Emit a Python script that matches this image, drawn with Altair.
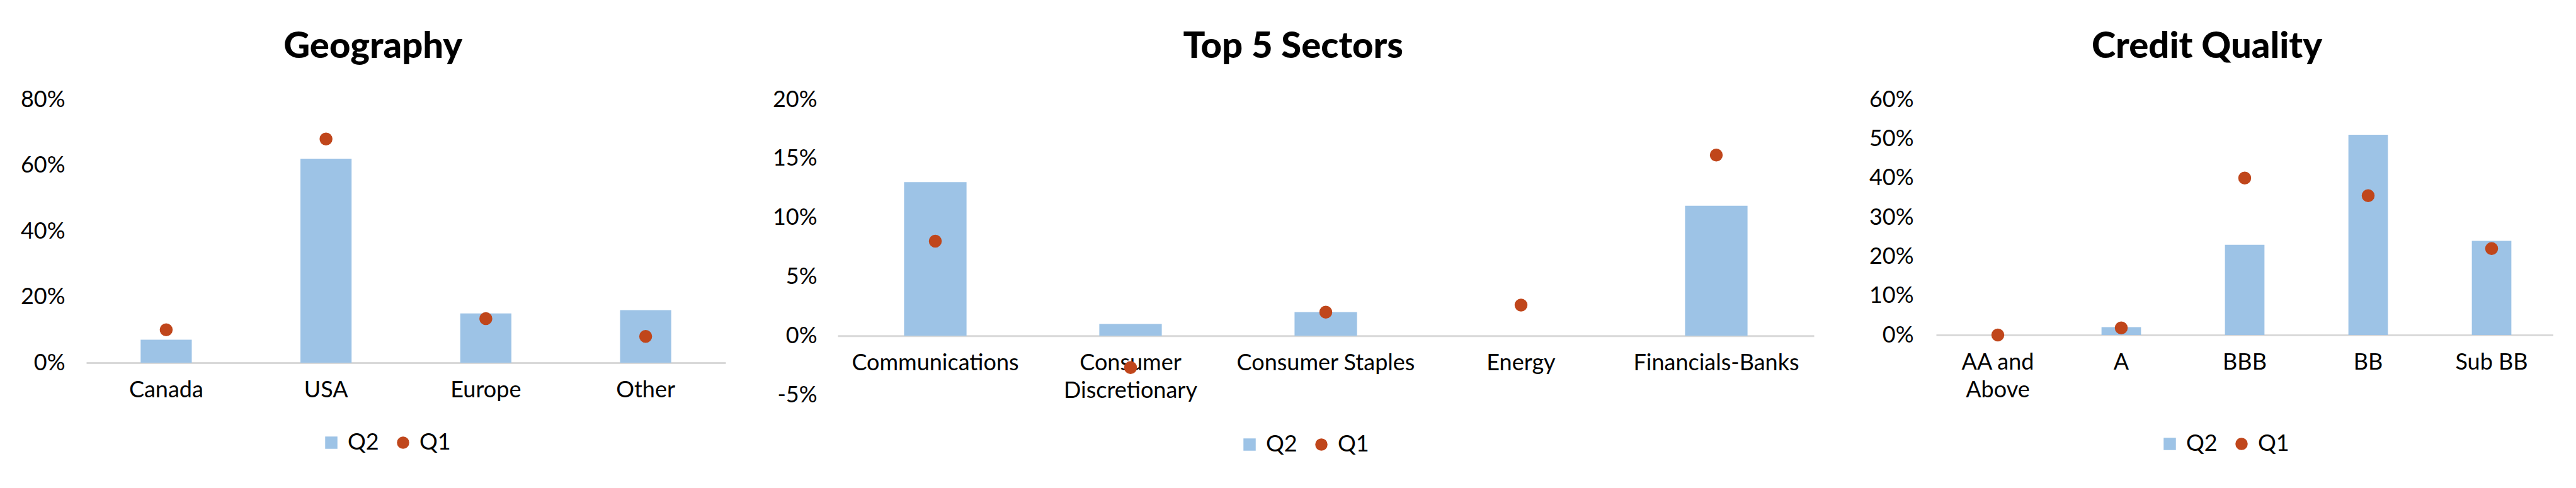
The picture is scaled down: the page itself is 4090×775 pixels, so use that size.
import altair as alt
import pandas as pd

# ---------------- data ----------------
geo_cats = ["Canada", "USA", "Europe", "Other"]
geo_q2 = [0.07, 0.62, 0.15, 0.16]
geo_q1 = [0.10, 0.68, 0.134, 0.08]

sec_cats = ["Communications", "Consumer Discretionary", "Consumer Staples", "Energy", "Financials-Banks"]
sec_q2 = [0.13, 0.01, 0.02, 0.0, 0.11]
sec_q1 = [0.08, -0.027, 0.02, 0.026, 0.153]

cred_cats = ["AA and Above", "A", "BBB", "BB", "Sub BB"]
cred_q2 = [0.0, 0.02, 0.23, 0.51, 0.24]
cred_q1 = [0.0, 0.018, 0.40, 0.355, 0.22]

series_names = ["Q2", "Q1"]
BLUE = "#9DC3E6"
ORANGE = "#C0461B"
FONT = "Lato"

LABEL_EXPR = ("datum.label == 'Consumer Discretionary' ? ['Consumer', 'Discretionary'] : "
              "datum.label == 'AA and Above' ? ['AA and', 'Above'] : datum.label")


def panel(title, cats, q2, q1, ymin, ymax, yvals, width, height, lx, ly,
          ylabpad=34, minext=None):
    n = len(cats)
    df = pd.DataFrame({
        "cat": cats * 2,
        "series": [series_names[0]] * n + [series_names[1]] * n,
        "value": q2 + q1,
    })
    base = alt.Chart(df)
    zero_off = -(0 - ymin) / (ymax - ymin) * height
    x = alt.X("cat:N", sort=cats,
              scale=alt.Scale(paddingInner=0.68, paddingOuter=0.34),
              axis=alt.Axis(title=None, labelAngle=0, ticks=False,
                            domainColor="#D9D9D9", domainWidth=3,
                            labelFont=FONT, labelFontSize=36, labelColor="#000000",
                            labelPadding=26, labelLineHeight=44, labelLimit=0,
                            labelExpr=LABEL_EXPR, offset=zero_off))
    yaxis_kwargs = dict(title=None, grid=False, domain=False, ticks=False,
                        values=yvals, format=".0%",
                        labelExpr="replace(datum.label, '\u2212', '-')",
                        labelFont=FONT, labelFontSize=36, labelColor="#000000",
                        labelPadding=ylabpad)
    if minext is not None:
        yaxis_kwargs["minExtent"] = minext
    y = alt.Y("value:Q", scale=alt.Scale(domain=[ymin, ymax], nice=False, zero=False),
              axis=alt.Axis(**yaxis_kwargs))
    legend = alt.Legend(title=None, orient="none", direction="horizontal",
                        legendX=lx, legendY=ly, labelFont=FONT, labelFontSize=36,
                        labelColor="#000000", symbolSize=380, labelOffset=8,
                        columnPadding=20, padding=0, symbolStrokeWidth=0)
    color = alt.Color("series:N", scale=alt.Scale(domain=series_names, range=[BLUE, ORANGE]),
                      legend=legend)
    shape = alt.Shape("series:N", scale=alt.Scale(domain=series_names, range=["square", "circle"]),
                      legend=legend)
    bars = base.transform_filter(alt.datum.series == series_names[0]).mark_bar().encode(
        x=x, y=y, color=color)
    pts = base.transform_filter(alt.datum.series == series_names[1]).mark_point(
        filled=True, size=420, opacity=1).encode(x=x, y=y, color=color, shape=shape)
    return alt.layer(bars, pts).properties(
        width=width, height=height,
        title=alt.TitleParams(title, font=FONT, fontSize=58, fontWeight=900,
                              color="#000000", anchor="middle", frame="bounds", offset=36),
    )


p1 = panel("Geography", geo_cats, geo_q2, geo_q1, 0.0, 0.8,
           [0, 0.2, 0.4, 0.6, 0.8], 1015, 418, 371, 527)
p2 = panel("Top 5 Sectors", sec_cats, sec_q2, sec_q1, -0.05, 0.20,
           [-0.05, 0, 0.05, 0.10, 0.15, 0.20], 1550, 469, 636, 530, ylabpad=33)
p3 = panel("Credit Quality", cred_cats, cred_q2, cred_q1, 0.0, 0.6,
           [0, 0.1, 0.2, 0.3, 0.4, 0.5, 0.6], 980, 374, 353, 529, ylabpad=36, minext=120)

chart = alt.hconcat(p1, p2, p3, spacing=74).resolve_scale(
    color="independent", shape="independent"
).resolve_legend(color="independent", shape="independent").configure_view(
    stroke=None
).properties(padding={"left": 24, "top": 38, "right": 0, "bottom": 0})

chart.save("out.html", embed_options={"renderer": "svg", "actions": False})
